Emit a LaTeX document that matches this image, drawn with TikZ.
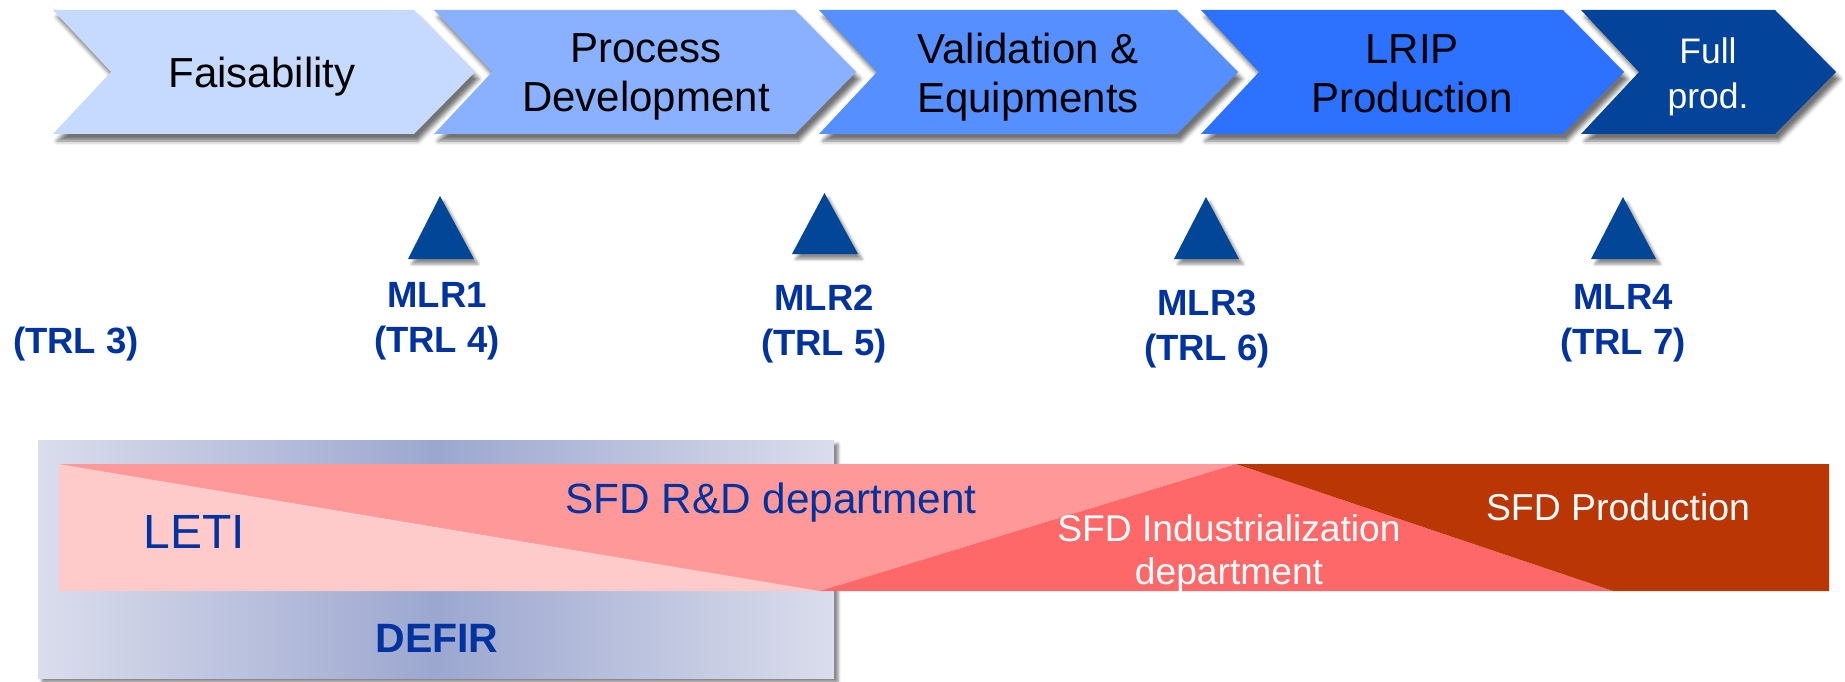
\documentclass[tikz,border=0pt]{standalone}
\usepackage{fontspec}
\setmainfont{Liberation Sans}
\usetikzlibrary{shadows.blur}
\definecolor{chA}{RGB}{198,217,255}
\definecolor{chB}{RGB}{138,177,255}
\definecolor{chC}{RGB}{86,143,255}
\definecolor{chD}{RGB}{44,113,255}
\definecolor{chE}{RGB}{3,68,154}
\definecolor{tri}{RGB}{2,70,152}
\definecolor{txtblue}{RGB}{0,51,160}
\definecolor{letic}{RGB}{255,202,202}
\definecolor{rndc}{RGB}{255,152,152}
\definecolor{indusc}{RGB}{255,104,104}
\definecolor{prodc}{RGB}{186,54,4}
\definecolor{defL}{RGB}{218,221,236}
\definecolor{defM}{RGB}{156,167,208}
\newcommand\mychev[3]{\fill[#3,chevshadow] (#1,10) -- (#2,10) -- ({#2+61},72) -- (#2,134) -- (#1,134) -- ({#1+58},72) -- cycle;}
\begin{document}
\begin{tikzpicture}[x=1pt,y=-1pt,
  chevshadow/.style={blur shadow={shadow xshift=4pt,shadow yshift=-7pt,shadow blur radius=4pt,shadow opacity=55}},
  trishadow/.style={blur shadow={shadow xshift=4pt,shadow yshift=-5pt,shadow blur radius=3pt,shadow opacity=45}},
  boxshadow/.style={blur shadow={shadow xshift=4pt,shadow yshift=-4pt,shadow blur radius=3pt,shadow opacity=50}},
  chevtext/.style={inner sep=0pt,align=center,font=\fontsize{42}{49}\selectfont},
  mlrtext/.style={inner sep=0pt,align=center,text=txtblue,font=\bfseries\fontsize{36.5}{45}\selectfont},
  bandtext/.style={inner sep=0pt,align=center}
]
\useasboundingbox (0,0) rectangle (1845,682);
% chevrons
\mychev{53}{414}{chA}
\mychev{434}{795}{chB}
\mychev{819}{1177}{chC}
\mychev{1201}{1563}{chD}
\mychev{1581}{1775}{chE}
\node[chevtext,anchor=base] (faisa) at (262,88) {Faisability};
\node[chevtext,anchor=north] (procdev) at (646,33) {Process\\Development};
\node[chevtext,anchor=north] (valeq) at (1028,33) {Validation \&\\Equipments};
\node[chevtext,anchor=north] (lrip) at (1412,34) {LRIP\\Production};
\node[chevtext,anchor=north,text=white,font=\fontsize{35.5}{45}\selectfont] (fullp) at (1708,38) {Full\\prod.};
% milestones
\fill[tri,trishadow] (408,259) -- (440,196) -- (474,259) -- cycle;
\fill[tri,trishadow] (792,254) -- (824.5,193) -- (858,254) -- cycle;
\fill[tri,trishadow] (1174,259) -- (1206,197) -- (1239,259) -- cycle;
\fill[tri,trishadow] (1591,259) -- (1623,197) -- (1656,259) -- cycle;
\node[mlrtext,anchor=base] (trl3) at (76,353) {(TRL 3)};
\node[mlrtext,anchor=north] (mlr1) at (437,282) {MLR1\\(TRL 4)};
\node[mlrtext,anchor=north] (mlr2) at (824,285) {MLR2\\(TRL 5)};
\node[mlrtext,anchor=north] (mlr3) at (1207,290) {MLR3\\(TRL 6)};
\node[mlrtext,anchor=north] (mlr4) at (1623,284) {MLR4\\(TRL 7)};
% DEFIR box
\fill[left color=defL,right color=defL,middle color=defM,boxshadow] (38,440) rectangle (834,678);
% band
\fill[letic] (59,464) -- (820,591) -- (59,591) -- cycle;
\fill[rndc] (59,464) -- (1236,464) -- (820,591) -- cycle;
\fill[indusc] (820,591) -- (1236,464) -- (1613,591) -- cycle;
\fill[prodc] (1236,464) -- (1829,464) -- (1829,591) -- (1613,591) -- cycle;
\node[bandtext,anchor=base,text=txtblue,font=\fontsize{48}{56}\selectfont] (letit) at (194,548) {LETI};
\node[bandtext,anchor=base,text=txtblue,font=\fontsize{42.3}{50}\selectfont] (rndt) at (771,513) {SFD R\&D department};
\node[bandtext,anchor=north,text=white,font=\fontsize{37.2}{43}\selectfont] (indt) at (1229,514) {SFD Industrialization\\department};
\node[bandtext,anchor=base,text=white,font=\fontsize{37.4}{44}\selectfont] (prodt) at (1618,520) {SFD Production};
\node[bandtext,anchor=base,text=txtblue,font=\bfseries\fontsize{41}{48}\selectfont] (defir) at (437,652) {DEFIR};
\end{tikzpicture}
\end{document}
